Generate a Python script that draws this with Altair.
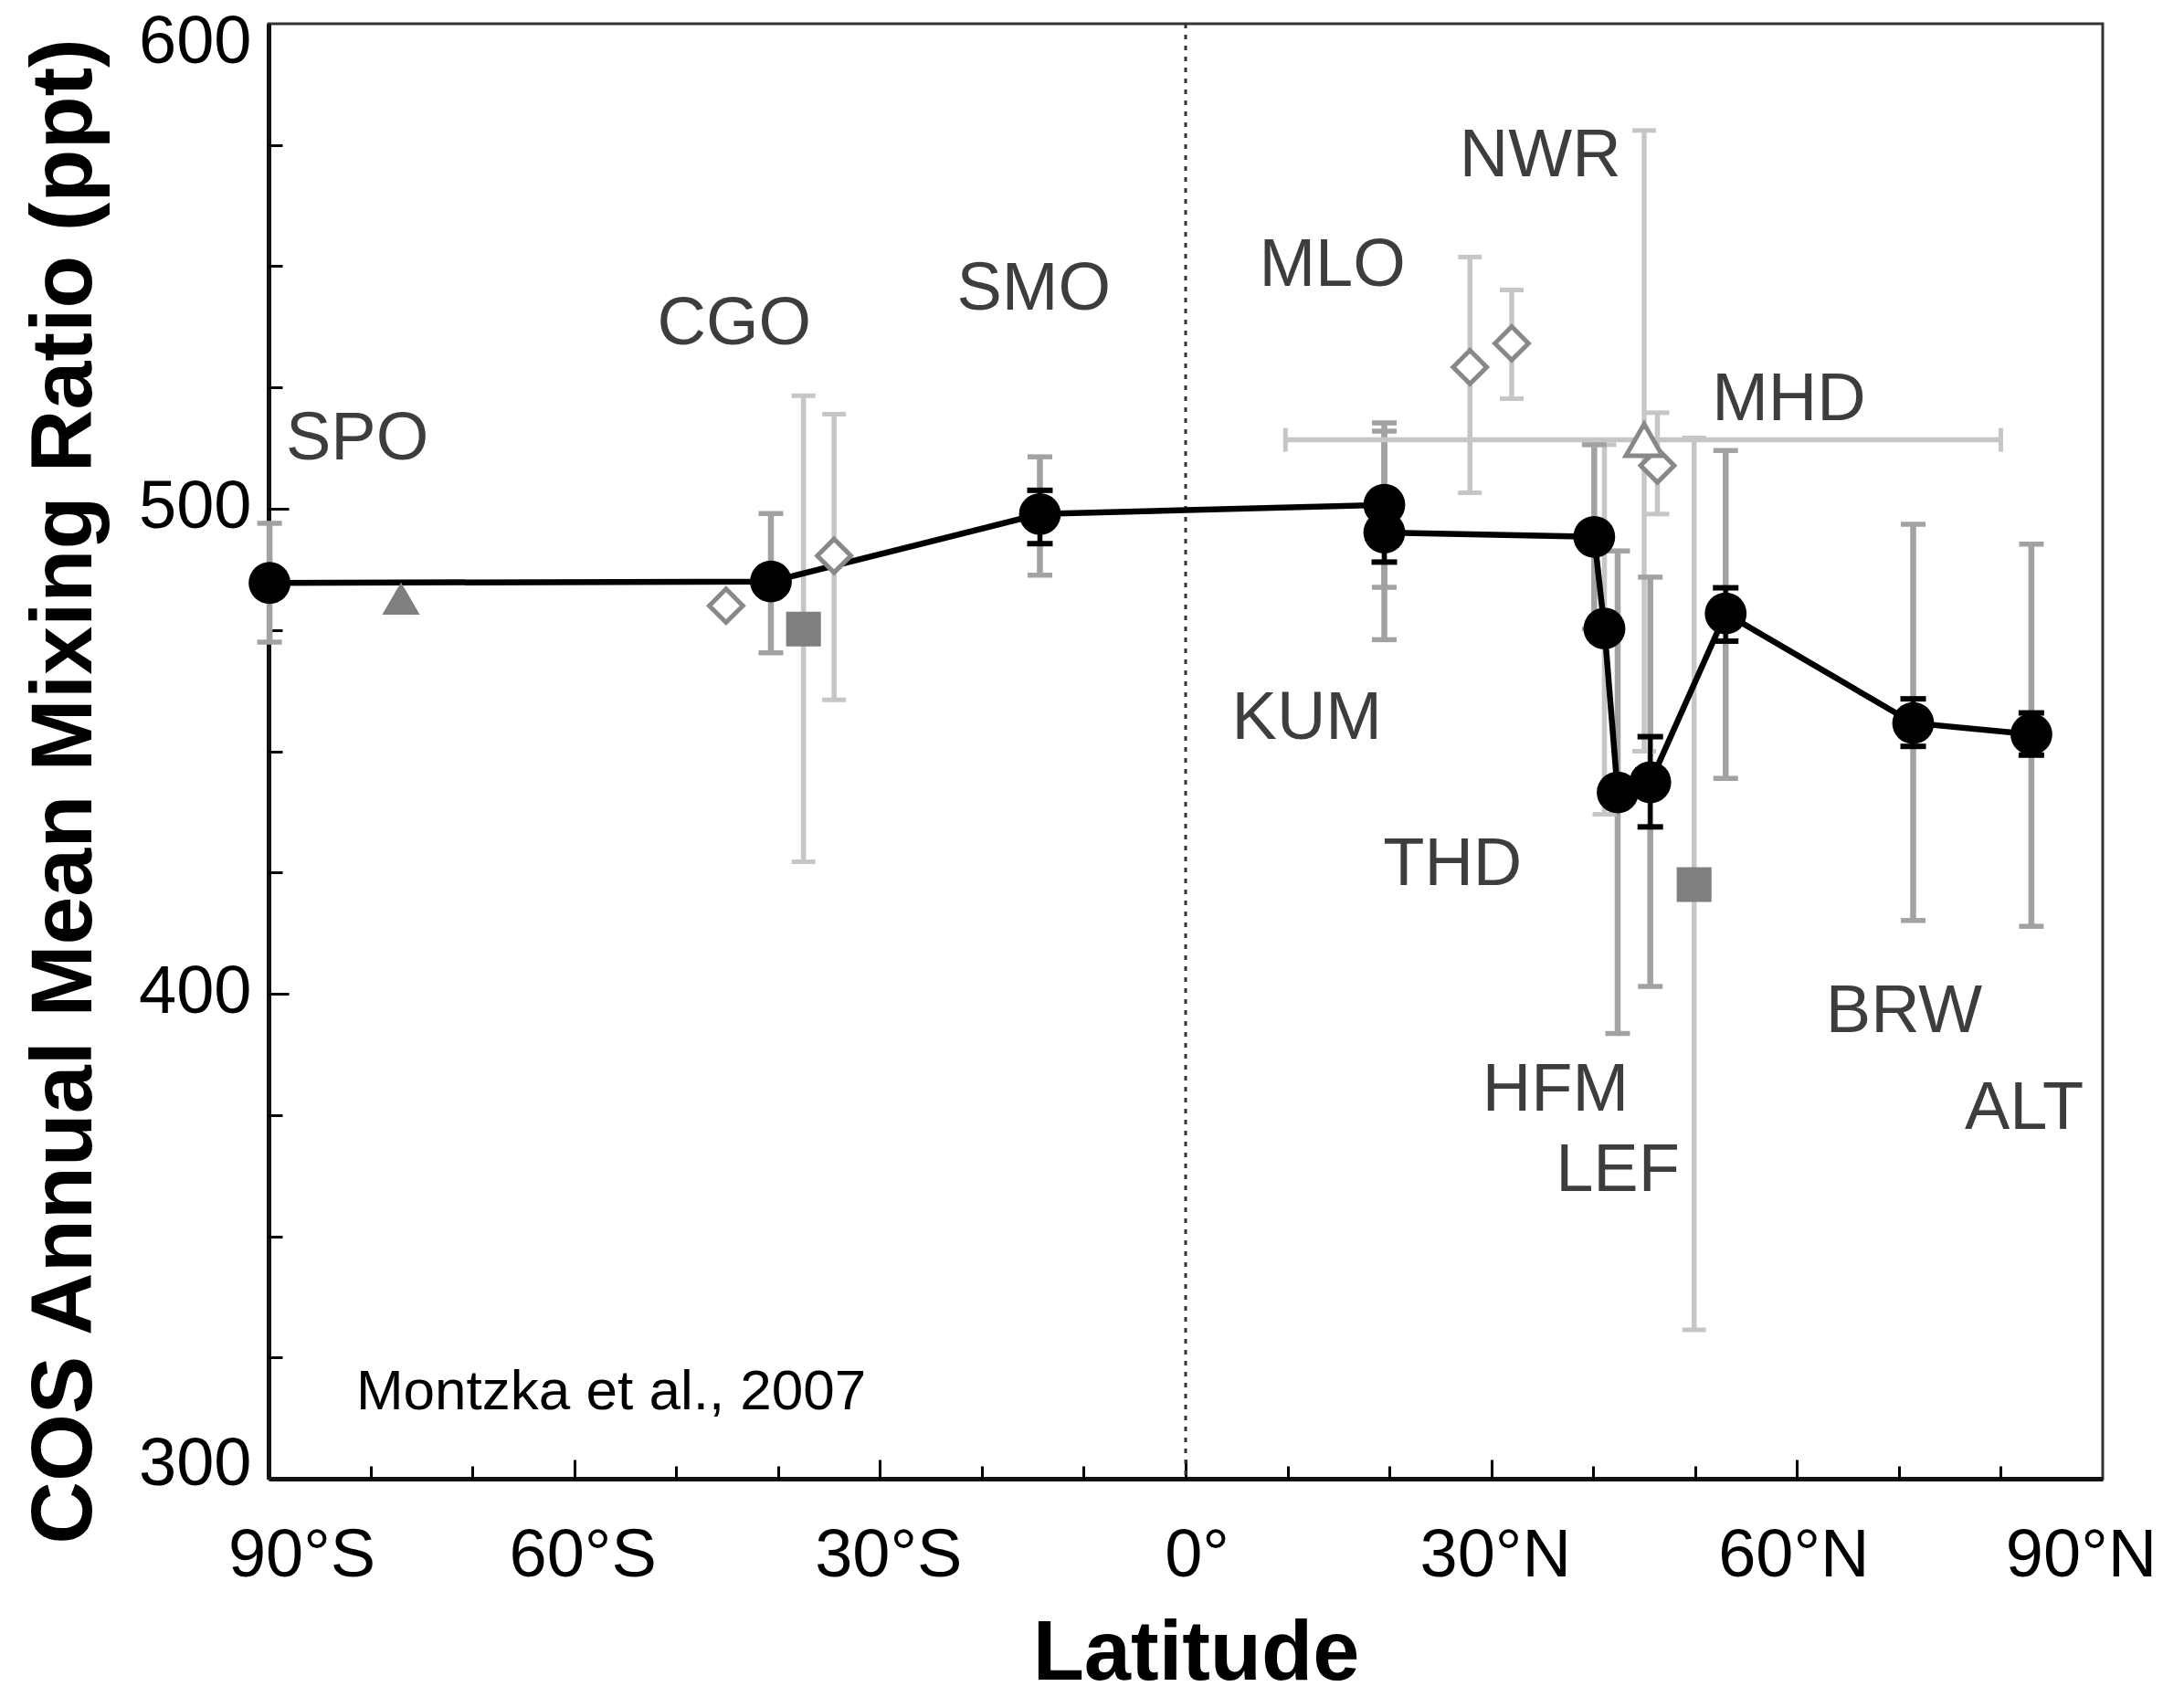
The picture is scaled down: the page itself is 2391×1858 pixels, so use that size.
import altair as alt
import pandas as pd

# ---------------- data ----------------
# NOAA flask network (black, connected)
noaa_lat  = [-89.9, -40.7, -14.3, 19.5, 19.5, 40.1, 41.1, 42.4, 45.6, 53.0, 71.4, 83.0]
noaa_mean = [484.7, 485.0, 498.9, 500.8, 495.1, 494.2, 475.3, 441.5, 443.6, 478.4, 455.8, 453.5]
noaa_lo   = [472.5, 470.3, 486.3, 483.8, 473.0, 475.2, 437.0, 391.8, 401.5, 444.4, 415.1, 413.9]
noaa_hi   = [497.0, 499.0, 510.7, 517.7, 516.0, 513.2, 513.2, 491.3, 485.9, 512.0, 496.8, 492.7]
noaa_tone = ["dark", "dark", "dark", "dark", "dark", "dark", "light", "dark", "dark", "dark", "dark", "dark"]

# small black error bars (visible ones)
blk_lat = [-14.3, 19.5, 45.6, 53.0, 71.4, 83.0]
blk_lo  = [492.8, 489.0, 434.4, 472.7, 451.0, 449.2]
blk_hi  = [503.8, 501.2, 453.0, 483.7, 460.8, 457.9]

# other data sets (grey symbols)
diamond_lat = [-45.1, -34.5, 27.9, 32.0, 46.3]
diamond_val = [480.0, 490.3, 529.2, 534.1, 508.9]
diamond_bar_lat = [-34.5, 27.9, 32.0, 46.3]
diamond_bar_lo  = [460.6, 503.3, 522.7, 498.9]
diamond_bar_hi  = [519.5, 551.9, 545.1, 519.8]

square_lat = [-37.5, 49.9]
square_val = [475.2, 422.5]
square_lo  = [427.2, 330.7]
square_hi  = [523.3, 514.6]

ftri_lat = [-77.0]
ftri_val = [481.5]

otri_lat = [45.0]
otri_val = [514.2]
otri_lo  = [450.0]
otri_hi  = [578.0]
otri_xlo = [9.8]
otri_xhi = [80.0]

# station labels
lab_text = ["SPO", "CGO", "SMO", "MLO", "NWR", "MHD", "KUM", "THD", "HFM", "LEF", "BRW", "ALT"]
lab_lat  = [-81.3, -44.3, -14.9, 14.4, 34.8, 59.2, 11.9, 26.2, 36.3, 42.4, 70.5, 82.3]
lab_val  = [510.2, 533.9, 541.1, 546.0, 568.5, 518.3, 452.6, 422.4, 375.9, 359.3, 392.0, 372.2]

note_text = ["Montzka et al., 2007"]
note_lat = [-81.4]
note_val = [314.4]

x_major = [-90, -60, -30, 0, 30, 60, 90]
x_minor = [-80, -70, -60, -50, -40, -30, -20, -10, 0, 10, 20, 30, 40, 50, 60, 70, 80]
y_major = [300, 400, 500, 600]
y_minor = [325, 350, 375, 400, 425, 450, 475, 500, 525, 550, 575]

# ---------------- tables ----------------
W, H = 2008, 1593
FONT = "Liberation Sans"
DARK = "#a2a2a2"
LIGHT = "#c6c6c6"
MARK = "#7f7f7f"
OPEN = "#888888"

noaa = pd.DataFrame({"lat": noaa_lat, "mean": noaa_mean, "lo": noaa_lo, "hi": noaa_hi,
                     "tone": noaa_tone, "seq": list(range(len(noaa_lat)))})
dark_bars = noaa[noaa.tone == "dark"][["lat", "lo", "hi"]]
light_bars = pd.concat([
    noaa[noaa.tone == "light"][["lat", "lo", "hi"]],
    pd.DataFrame({"lat": diamond_bar_lat, "lo": diamond_bar_lo, "hi": diamond_bar_hi}),
    pd.DataFrame({"lat": square_lat, "lo": square_lo, "hi": square_hi}),
    pd.DataFrame({"lat": otri_lat, "lo": otri_lo, "hi": otri_hi}),
], ignore_index=True)
blk = pd.DataFrame({"lat": blk_lat, "lo": blk_lo, "hi": blk_hi})


def caps(df):
    return pd.concat([df[["lat", "lo"]].rename(columns={"lo": "v"}),
                      df[["lat", "hi"]].rename(columns={"hi": "v"})], ignore_index=True)


hbar = pd.DataFrame({"val": otri_val, "xlo": otri_xlo, "xhi": otri_xhi})
hcaps = pd.DataFrame({"lat": otri_xlo + otri_xhi, "val": otri_val * 2})

xs = alt.Scale(domain=[-90, 90], nice=False, zero=False)
ys = alt.Scale(domain=[300, 600], nice=False, zero=False)

x_label_expr = ("datum.value == 0 ? '0°' : (datum.value < 0 ? abs(datum.value) + '°S' : "
                "datum.value + '°N')")

main_x_axis = alt.Axis(
    orient="bottom", values=x_major, labelExpr=x_label_expr, labelFont=FONT,
    labelFontSize=74, labelColor="black", labelPadding=48, labelFlush=False,
    labelOverlap=False,
    labelOffset={"expr": "datum.value == -90 ? 36 : datum.value == 90 ? -24 : "
                         "datum.value == 0 ? 12 : datum.value == 60 ? -4 : datum.value == 30 ? 4 : 9"},
    ticks=False, tickSize=0, domain=True, domainColor="#111111", domainWidth=5, grid=False,
    title="Latitude", titleFont=FONT, titleFontSize=92, titleFontWeight="bold",
    titleColor="black", titleX=1015, titleY=219, titleBaseline="alphabetic", titleAlign="center")

main_y_axis = alt.Axis(
    orient="left", values=y_major, format="d", labelFont=FONT, labelFontSize=74,
    labelColor="black", labelPadding=19, labelFlush=False, labelOverlap=False,
    labelOffset={"expr": "datum.value == 300 ? -16 : datum.value == 600 ? 20 : -2"},
    ticks=False, tickSize=0, domain=True, domainColor="#111111", domainWidth=5, grid=False,
    title="COS Annual Mean Mixing Ratio (ppt)", titleFont=FONT, titleFontSize=95,
    titleFontWeight="bold", titleColor="black", titleAngle=270, titleX=-195, titleY=840,
    titleBaseline="alphabetic", titleAlign="center")

inner_x_axis = alt.Axis(
    orient="top", offset=-H, values=x_minor, labels=False, domain=False, grid=False,
    ticks=True, tickColor="black", tickWidth=3,
    tickSize={"expr": "datum.value % 30 == 0 ? 21 : 14"})

inner_y_axis = alt.Axis(
    orient="right", offset=-W, values=y_minor, labels=False, domain=False, grid=False,
    ticks=True, tickColor="black", tickWidth=3,
    tickSize={"expr": "datum.value % 100 == 0 ? 22 : 15"})

# ---------------- layers ----------------
zero_line = alt.Chart(pd.DataFrame({"lat": [0]})).mark_rule(
    color="#333333", strokeWidth=3, strokeDash=[5, 7]
).encode(x=alt.X("lat:Q", scale=xs, axis=None))

light_rules = alt.Chart(light_bars).mark_rule(color=LIGHT, strokeWidth=5.5).encode(
    x=alt.X("lat:Q", scale=xs, axis=inner_x_axis, title=None),
    y=alt.Y("lo:Q", scale=ys, axis=inner_y_axis, title=None),
    y2="hi:Q")
light_caps = alt.Chart(caps(light_bars)).mark_tick(
    color=LIGHT, orient="horizontal", size=26, thickness=5, opacity=1
).encode(x=alt.X("lat:Q", scale=xs, axis=None), y=alt.Y("v:Q", scale=ys, axis=None))

h_rule = alt.Chart(hbar).mark_rule(color=LIGHT, strokeWidth=5.5).encode(
    x=alt.X("xlo:Q", scale=xs, axis=None), x2="xhi:Q",
    y=alt.Y("val:Q", scale=ys, axis=None))
h_caps = alt.Chart(hcaps).mark_tick(
    color=LIGHT, orient="vertical", size=26, thickness=5, opacity=1
).encode(x=alt.X("lat:Q", scale=xs, axis=None), y=alt.Y("val:Q", scale=ys, axis=None))

dark_rules = alt.Chart(dark_bars).mark_rule(color=DARK, strokeWidth=6.5).encode(
    x=alt.X("lat:Q", scale=xs, axis=main_x_axis),
    y=alt.Y("lo:Q", scale=ys, axis=main_y_axis),
    y2="hi:Q")
dark_caps = alt.Chart(caps(dark_bars)).mark_tick(
    color=DARK, orient="horizontal", size=27, thickness=5.5, opacity=1
).encode(x=alt.X("lat:Q", scale=xs, axis=None), y=alt.Y("v:Q", scale=ys, axis=None))

line = alt.Chart(noaa).mark_line(color="black", strokeWidth=6.5).encode(
    x=alt.X("lat:Q", scale=xs, axis=None),
    y=alt.Y("mean:Q", scale=ys, axis=None),
    order=alt.Order("seq:Q"))

blk_rules = alt.Chart(blk).mark_rule(color="black", strokeWidth=5).encode(
    x=alt.X("lat:Q", scale=xs, axis=None),
    y=alt.Y("lo:Q", scale=ys, axis=None), y2="hi:Q")
blk_caps = alt.Chart(caps(blk)).mark_tick(
    color="black", orient="horizontal", size=28, thickness=6, opacity=1
).encode(x=alt.X("lat:Q", scale=xs, axis=None), y=alt.Y("v:Q", scale=ys, axis=None))

circles = alt.Chart(noaa).mark_circle(color="black", size=2100, opacity=1).encode(
    x=alt.X("lat:Q", scale=xs, axis=None), y=alt.Y("mean:Q", scale=ys, axis=None))

diamonds = alt.Chart(pd.DataFrame({"lat": diamond_lat, "val": diamond_val})).mark_point(
    shape="diamond", size=1350, fill="white", fillOpacity=1, stroke=OPEN,
    strokeWidth=5, opacity=1
).encode(x=alt.X("lat:Q", scale=xs, axis=None), y=alt.Y("val:Q", scale=ys, axis=None))

open_tri = alt.Chart(pd.DataFrame({"lat": otri_lat, "val": otri_val})).mark_point(
    shape="triangle-up", size=1600, fill="white", fillOpacity=1, stroke=OPEN,
    strokeWidth=5, opacity=1
).encode(x=alt.X("lat:Q", scale=xs, axis=None), y=alt.Y("val:Q", scale=ys, axis=None))

squares = alt.Chart(pd.DataFrame({"lat": square_lat, "val": square_val})).mark_point(
    shape="square", size=1450, filled=True, color=MARK, opacity=1
).encode(x=alt.X("lat:Q", scale=xs, axis=None), y=alt.Y("val:Q", scale=ys, axis=None))

filled_tri = alt.Chart(pd.DataFrame({"lat": ftri_lat, "val": ftri_val})).mark_point(
    shape="triangle-up", size=1700, filled=True, color=MARK, opacity=1
).encode(x=alt.X("lat:Q", scale=xs, axis=None), y=alt.Y("val:Q", scale=ys, axis=None))

labels = alt.Chart(pd.DataFrame({"t": lab_text, "lat": lab_lat, "val": lab_val})).mark_text(
    font=FONT, fontSize=74, color="#3d3d3d", align="center", baseline="alphabetic"
).encode(x=alt.X("lat:Q", scale=xs, axis=None), y=alt.Y("val:Q", scale=ys, axis=None),
         text="t:N")

note = alt.Chart(pd.DataFrame({"t": note_text, "lat": note_lat, "val": note_val})).mark_text(
    font=FONT, fontSize=62, color="black", align="left", baseline="alphabetic"
).encode(x=alt.X("lat:Q", scale=xs, axis=None), y=alt.Y("val:Q", scale=ys, axis=None),
         text="t:N")

chart = alt.layer(
    dark_rules, light_rules, zero_line, light_caps, h_rule, h_caps, dark_caps,
    line, blk_rules, blk_caps, circles, diamonds, open_tri, squares, filled_tri,
    labels, note
).resolve_axis(x="independent", y="independent").properties(
    width=W, height=H,
    autosize=alt.AutoSizeParams(type="none"),
    padding={"left": 294, "top": 26, "right": 89, "bottom": 239},
    background="white",
).configure_view(stroke="#333333", strokeWidth=3)

chart.save("out.html", embed_options={"renderer": "svg", "actions": False})
